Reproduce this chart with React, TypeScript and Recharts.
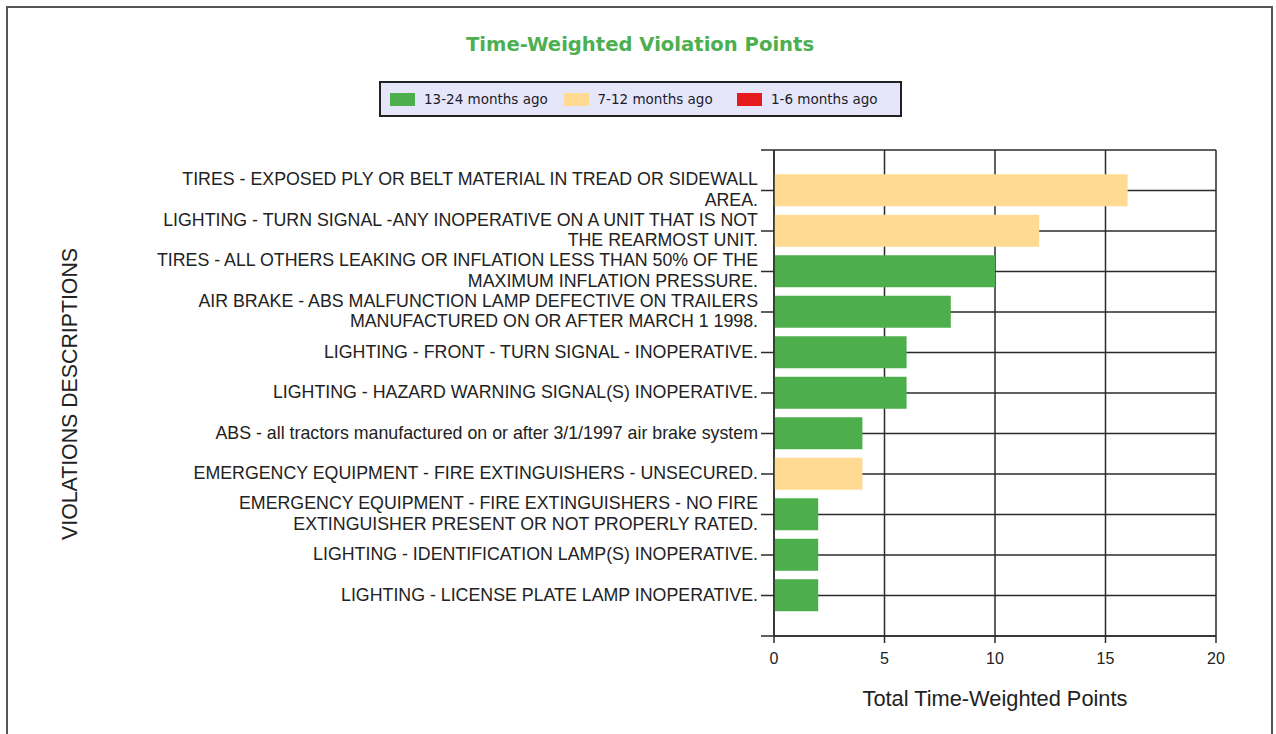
import React from "react";
import { BarChart, Bar, XAxis, YAxis, CartesianGrid } from "recharts";

// violation descriptions, top to bottom ("\n" = line break in the label)
const violations = [
  "TIRES - EXPOSED PLY OR BELT MATERIAL IN TREAD OR SIDEWALL\nAREA.",
  "LIGHTING - TURN SIGNAL -ANY INOPERATIVE ON A UNIT THAT IS NOT\nTHE REARMOST UNIT.",
  "TIRES - ALL OTHERS LEAKING OR INFLATION LESS THAN 50% OF THE\nMAXIMUM INFLATION PRESSURE.",
  "AIR BRAKE - ABS MALFUNCTION LAMP DEFECTIVE ON TRAILERS\nMANUFACTURED ON OR AFTER MARCH 1 1998.",
  "LIGHTING - FRONT - TURN SIGNAL - INOPERATIVE.",
  "LIGHTING - HAZARD WARNING SIGNAL(S) INOPERATIVE.",
  "ABS - all tractors manufactured on or after 3/1/1997 air brake system",
  "EMERGENCY EQUIPMENT - FIRE EXTINGUISHERS - UNSECURED.",
  "EMERGENCY EQUIPMENT - FIRE EXTINGUISHERS - NO FIRE\nEXTINGUISHER PRESENT OR NOT PROPERLY RATED.",
  "LIGHTING - IDENTIFICATION LAMP(S) INOPERATIVE.",
  "LIGHTING - LICENSE PLATE LAMP INOPERATIVE.",
];

const months13to24 = [0, 0, 10, 8, 6, 6, 4, 0, 2, 2, 2];
const months7to12 = [16, 12, 0, 0, 0, 0, 0, 4, 0, 0, 0];
const months1to6 = [0, 0, 0, 0, 0, 0, 0, 0, 0, 0, 0];

const xTicks = [0, 5, 10, 15, 20];

const series = [
  { key: "m13to24", name: "13-24 months ago", color: "#4caf4c" },
  { key: "m7to12", name: "7-12 months ago", color: "#ffda93" },
  { key: "m1to6", name: "1-6 months ago", color: "#e41a1c" },
];

const rows = violations.map((label, i) => ({
  pos: i + 1,
  label,
  m13to24: months13to24[i],
  m7to12: months7to12[i],
  m1to6: months1to6[i],
}));

// one empty slot above and below the rows
const yTicks = Array.from({ length: violations.length + 2 }, (_, i) => i);

const ARIAL = "'Liberation Sans', Arial, sans-serif";
const GRID = "#2b2b2b";

function ViolationTick(props: any) {
  const { x, y, payload } = props;
  const label = violations[payload.value - 1];
  if (!label) return null;
  const lines = label.split("\n");
  const lh = 20.5;
  const top = y - ((lines.length - 1) * lh) / 2 - 1;
  return (
    <text
      x={x}
      y={top}
      textAnchor="end"
      dominantBaseline="central"
      fontSize={17.8}
      fontFamily={ARIAL}
      fill="#222"
    >
      {lines.map((line: string, i: number) => (
        <tspan key={i} x={x} y={top + i * lh}>
          {line}
        </tspan>
      ))}
    </text>
  );
}

function ChartLegend() {
  return (
    <div
      style={{
        position: "absolute",
        left: 379,
        top: 81,
        width: 510,
        height: 32,
        border: "2px solid #222",
        background: "#e6e6fa",
        display: "flex",
        alignItems: "center",
        paddingLeft: 9,
        boxSizing: "content-box",
        fontFamily: "'DejaVu Sans', Verdana, sans-serif",
        fontSize: 13.5,
        color: "#1c1c2a",
      }}
    >
      {series.map((s) => (
        <div
          key={s.key}
          style={{ display: "flex", alignItems: "center", width: 173.5, flex: "none" }}
        >
          <div
            style={{ width: 25, height: 13, background: s.color, marginRight: 9 }}
          />
          <span style={{ whiteSpace: "nowrap" }}>{s.name}</span>
        </div>
      ))}
    </div>
  );
}

export default function App() {
  return (
    <div
      style={{
        position: "absolute",
        left: 0,
        top: 0,
        width: 1276,
        height: 734,
        overflow: "hidden",
        background: "#fff",
      }}
    >
      <div
        style={{
          position: "absolute",
          left: 6,
          top: 6,
          width: 1263,
          height: 800,
          border: "2px solid #555",
        }}
      />
      <div style={{ position: "absolute", left: 0, top: 0 }}>
        <BarChart
          width={1276}
          height={734}
          data={rows}
          layout="vertical"
          margin={{ top: 150, right: 60, bottom: 0, left: 0 }}
        >
          <CartesianGrid stroke={GRID} strokeWidth={1.5} />
          <XAxis
            type="number"
            domain={[0, 20]}
            ticks={xTicks}
            height={98}
            tickSize={7}
            tickMargin={10}
            axisLine={{ stroke: GRID, strokeWidth: 1.5 }}
            tickLine={{ stroke: GRID, strokeWidth: 1.5 }}
            tick={{ fill: "#222", fontSize: 16, fontFamily: ARIAL }}
            label={{
              value: "Total Time-Weighted Points",
              position: "insideBottom",
              offset: 28,
              fill: "#222",
              fontSize: 21.8,
              fontFamily: ARIAL,
            }}
          />
          <YAxis
            type="number"
            dataKey="pos"
            domain={[0, violations.length + 1]}
            ticks={yTicks}
            interval={0}
            width={774}
            tickSize={13}
            tickMargin={3}
            axisLine={{ stroke: GRID, strokeWidth: 1.5 }}
            tickLine={{ stroke: GRID, strokeWidth: 1.5 }}
            tick={(p: any) => <ViolationTick {...p} />}
          />
          {series.map((s) => (
            <Bar
              key={s.key}
              dataKey={s.key}
              name={s.name}
              stackId="points"
              fill={s.color}
              barSize={32}
              isAnimationActive={false}
            />
          ))}
        </BarChart>
      </div>
      <svg
        width={1276}
        height={734}
        style={{ position: "absolute", left: 0, top: 0, pointerEvents: "none" }}
      >
        <text
          x={640}
          y={44}
          textAnchor="middle"
          dominantBaseline="central"
          fontFamily="'DejaVu Sans', Verdana, sans-serif"
          fontWeight="bold"
          fontSize={19.6}
          fill="#4caf50"
        >
          Time-Weighted Violation Points
        </text>
        <text
          transform="translate(69,394) rotate(-90)"
          textAnchor="middle"
          dominantBaseline="central"
          fontFamily={ARIAL}
          fontSize={22}
          textLength={292}
          lengthAdjust="spacingAndGlyphs"
          fill="#222"
        >
          VIOLATIONS DESCRIPTIONS
        </text>
      </svg>
      <ChartLegend />
    </div>
  );
}
